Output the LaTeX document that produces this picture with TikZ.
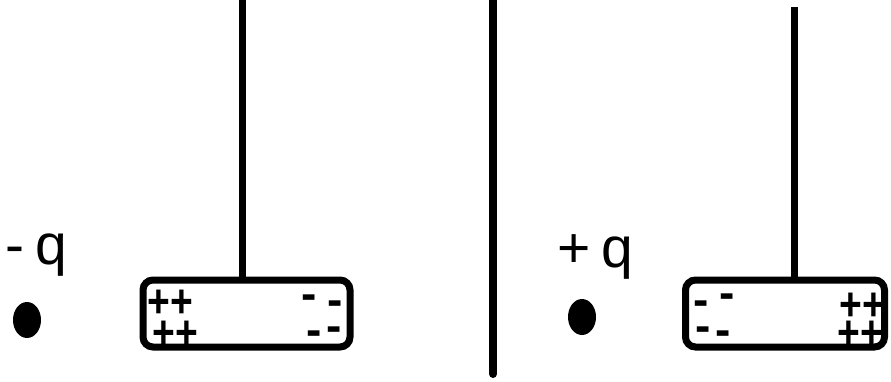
\documentclass[tikz,border=0pt]{standalone}
\usepackage{fontspec}
\setmainfont{Liberation Sans}
\usetikzlibrary{positioning}
\usetikzlibrary{shapes.geometric}
\newcommand{\qlabelfont}{\fontsize{57}{60}\selectfont\spaceskip 11pt\relax}

\begin{document}
\begin{tikzpicture}[
    x=1pt, y=1pt,
    plate/.style={rectangle, draw, line width=7pt, rounded corners=10pt, minimum height=67pt, inner sep=0pt},
    thread/.style={line width=7pt},
    charge/.style={ellipse, fill, inner sep=0pt, minimum width=28pt, minimum height=36pt},
    plus/.style={anchor=base, inner sep=0pt, font=\fontsize{39}{39}\selectfont\bfseries},
    minus/.style={anchor=base, inner sep=0pt, font=\fontsize{46}{46}\selectfont\bfseries},
    qlabel/.style={anchor=base west, inner sep=0pt}
]
    \useasboundingbox (0,0) rectangle (891,381);

    % Left side: negative charge near the plate
    \node[charge] (qL) at (27,61) {};
    \node[qlabel] (labL) at (5.5,117) {\qlabelfont - q};
    \node[plate, minimum width=207pt] (plateL) at (246.5,67.5) {};
    \coordinate (topL) at (242,381);
    \draw[thread] (topL) -- (topL |- plateL.north);
    \node[plus] (pL1) at (170,63.5) {\scalebox{1}[1.2]{++}};
    \node[plus] (pL2) at (175,33) {\scalebox{1}[1.2]{++}};
    \node[minus] (mL1) at (309,71.8) {-};
    \node[minus] (mL2) at (335,65.8) {-};
    \node[minus] (mL3) at (314,35.8) {-};
    \node[minus] (mL4) at (334,39.8) {-};

    % Divider
    \coordinate (divTop) at (493,381);
    \coordinate (divBot) at (493,7);
    \draw[line width=8pt, line cap=round] (divTop) -- (divBot);

    % Right side: positive charge near the plate
    \node[charge] (qR) at (582,64) {};
    \node[qlabel] (labR) at (557.5,114) {\qlabelfont + q};
    \node[plate, minimum width=199pt] (plateR) at (785,67.5) {};
    \coordinate (topR) at (794,374);
    \draw[thread] (topR) -- (topR |- plateR.north);
    \node[minus] (mR1) at (701,65.8) {-};
    \node[minus] (mR2) at (727.5,72.8) {-};
    \node[minus] (mR3) at (703,39.8) {-};
    \node[minus] (mR4) at (723,35.8) {-};
    \node[plus] (pR1) at (862,60.5) {\scalebox{1}[1.2]{++}};
    \node[plus] (pR2) at (860,33) {\scalebox{1}[1.2]{++}};
\end{tikzpicture}
\end{document}
